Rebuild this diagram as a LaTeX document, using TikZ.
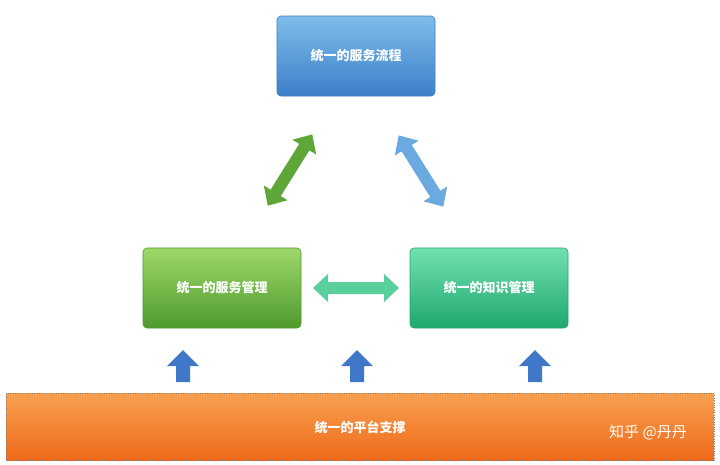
\documentclass[tikz,border=0pt]{standalone}
\usepackage{fontspec}
\setmainfont{Noto Sans CJK SC}
\usetikzlibrary{calc}
\definecolor{bt}{HTML}{7FBDEB}\definecolor{bb}{HTML}{3B7FC9}
\definecolor{gt}{HTML}{9ED86A}\definecolor{gb}{HTML}{4E9A2C}
\definecolor{tt}{HTML}{72E0B0}\definecolor{tb}{HTML}{1FA86E}
\definecolor{ot}{HTML}{F8A050}\definecolor{ob}{HTML}{EE6A1A}
\definecolor{ab}{HTML}{3F78C8}
\begin{document}
\begin{tikzpicture}[x=1pt,y=-1pt,
box/.style={rectangle,rounded corners=4pt,minimum width=158pt,minimum height=80pt,text=white,font=\bfseries\fontsize{13}{15}\selectfont,draw=#1,line width=0.6pt},
pics/dbl/.style={code={\path[pic actions] (-#1,0) -- (-#1+15,-14) -- (-#1+15,-6) -- (#1-15,-6) -- (#1-15,-14) -- (#1,0) -- (#1-15,14) -- (#1-15,6) -- (-#1+15,6) -- (-#1+15,14) -- cycle;}},
pics/up/.style={code={\path[fill=ab] (0,-16) -- (16,0) -- (7,0) -- (7,16) -- (-7,16) -- (-7,0) -- (-16,0) -- cycle;}}]
\useasboundingbox (0,0) rectangle (720,464);
\fill[white] (0,0) rectangle (720,464);
\node[box=bb,top color=bt,bottom color=bb] (top) at (356,56) {统一的服务流程};
\node[box=gb,top color=gt,bottom color=gb] (left) at (222,288) {统一的服务管理};
\node[box=tb,top color=tt,bottom color=tb] (right) at (489,288) {统一的知识管理};
\pic[rotate=58,fill=gb!80!gt] (a1) at (290,170) {dbl=42};
\pic[rotate=-58,fill=bt!70!bb] (a2) at (421,171) {dbl=42};
\pic[fill=tt!70!tb] (a3) at (356,288) {dbl=43};
\node[draw=gray,dotted,top color=ot,bottom color=ob,minimum width=708pt,minimum height=67pt,inner sep=0pt,text=white,font=\bfseries\fontsize{13}{15}\selectfont] (base) at (360,427) {统一的平台支撑};
\pic (u1) at (183,366) {up};
\pic (u2) at (357,366) {up};
\pic (u3) at (535,366) {up};
\node[text=white,font=\fontsize{15}{17}\selectfont] (wm) at (648,432) {知乎 @丹丹};
\end{tikzpicture}
\end{document}
